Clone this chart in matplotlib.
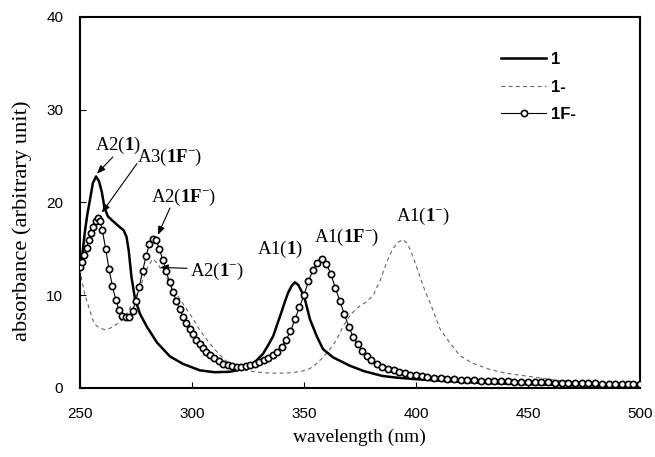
import numpy as np
import matplotlib
matplotlib.use("Agg")
import matplotlib.pyplot as plt

plt.rcParams['mathtext.fontset'] = 'custom'
plt.rcParams['mathtext.rm'] = 'Liberation Serif'
plt.rcParams['mathtext.it'] = 'Liberation Serif:italic'
plt.rcParams['mathtext.bf'] = 'Liberation Serif:bold'

# compound 1 (solid)
wl_1 = [250, 251, 252.2, 253.3, 254.5, 255.8, 257.2, 258.5, 259.8, 261, 262.5, 264.7,
        267.5, 269.5, 270.8, 271.8, 273, 274.6, 276.8, 279.9, 284.4, 290.2, 296, 303.6,
        310, 317, 322, 326, 329, 331.8, 334, 336.3, 338, 340, 341.5, 343, 344.5, 346,
        347.5, 349, 350.4, 352.7, 355.7, 358.5, 363, 370.5, 377, 385, 392, 400, 410,
        420, 435, 450, 470, 500]
abs_1 = [12.9, 14.2, 16.8, 18.7, 20.3, 22.1, 22.8, 22.3, 21.1, 19.4, 18.5, 18.0,
         17.4, 17.0, 16.3, 14.8, 12.0, 9.6, 8.0, 6.6, 4.9, 3.4, 2.6, 1.9,
         1.7, 1.75, 2.0, 2.4, 3.0, 3.7, 4.6, 5.6, 6.8, 8.2, 9.3, 10.3, 11.0, 11.4,
         11.1, 10.4, 9.6, 7.4, 5.6, 4.2, 3.3, 2.4, 1.8, 1.3, 1.1, 0.95, 0.8,
         0.65, 0.5, 0.4, 0.3, 0.2]

# anion 1- (dashed)
wl_1m = [250, 251, 252, 253.3, 254.5, 255.8, 257, 258.5, 261, 263, 264.7, 266.5, 268.7,
         271.4, 274.6, 277.7, 280.4, 282.5, 284.4, 287, 290, 293, 296.5, 300.4, 303.6,
         306.7, 310, 314, 318, 322, 326, 330, 335, 340, 345, 349, 352.7, 355.5, 358.5,
         361, 363, 365, 367.4, 370.5, 373.6, 376, 378, 381, 384, 386, 388, 390, 392,
         394.3, 396, 397.3, 399.5, 401.8, 404, 406.3, 408.5, 410.7, 415, 419.6, 425,
         433, 440, 452, 464, 475, 487, 500]
abs_1m = [12.8, 11.4, 10.3, 9.2, 8.3, 7.3, 6.8, 6.5, 6.3, 6.4, 6.6, 6.9, 7.3,
          8.2, 9.6, 11.4, 13.1, 13.9, 13.5, 12.5, 11.4, 10.2, 8.9, 7.5, 6.2,
          5.2, 4.2, 3.2, 2.4, 2.0, 1.8, 1.7, 1.6, 1.6, 1.65, 1.8, 2.1, 2.6, 3.3,
          4.0, 4.6, 5.4, 6.6, 7.8, 8.6, 9.0, 9.3, 10.0, 11.6, 12.9, 14.2, 15.1, 15.7,
          16.0, 15.6, 15.0, 13.6, 12.0, 10.5, 9.2, 7.8, 6.4, 4.9, 3.5, 2.7,
          2.0, 1.6, 1.2, 0.8, 0.6, 0.45, 0.35]

# 1F- (open circles)
wl_1f = [250, 251, 252, 253, 254, 255, 256, 257, 258, 259, 260, 261.5, 263, 264.5, 266,
         267.5, 269, 270.5, 272, 273.5, 275, 276.5, 278, 279.5, 281, 282.5, 284, 285.5,
         287, 288.5, 290, 291.5, 293, 294.5, 296, 297.5, 299, 300.5, 302, 303.5, 305,
         306.5, 308, 310, 312, 314, 316, 318, 320, 322, 324, 326, 328, 330, 332, 334,
         336, 338, 340, 342, 344, 346, 348, 350, 352, 354, 356, 358, 360, 362, 364, 366,
         368, 370, 372, 374, 376, 378, 380, 382.5, 385, 387.5, 390, 392.5, 395, 397.5,
         400, 402.5, 405, 408, 411, 414, 417, 420, 423, 426, 429, 432, 435, 438, 441,
         444, 447, 450, 453, 456, 459, 462, 465, 468, 471, 474, 477, 480, 483, 486, 489,
         492, 494.5, 497, 500]
abs_1f = [13.0, 13.6, 14.3, 15.1, 15.9, 16.7, 17.4, 18.0, 18.3, 18.0, 17.0, 15.0, 12.8,
          11.0, 9.5, 8.4, 7.8, 7.6, 7.7, 8.3, 9.4, 10.9, 12.6, 14.2, 15.5, 16.1, 15.9,
          15.0, 13.8, 12.6, 11.4, 10.4, 9.4, 8.5, 7.7, 7.0, 6.4, 5.8, 5.2, 4.7, 4.3,
          3.9, 3.6, 3.2, 2.9, 2.6, 2.45, 2.35, 2.3, 2.3, 2.35, 2.45, 2.6, 2.8, 3.0, 3.25,
          3.55, 3.9, 4.4, 5.2, 6.1, 7.4, 8.7, 10.0, 11.5, 12.7, 13.5, 13.9, 13.4, 12.3,
          10.8, 9.4, 8.0, 6.6, 5.5, 4.7, 4.0, 3.4, 3.0, 2.6, 2.3, 2.1, 1.9, 1.75, 1.6,
          1.45, 1.35, 1.25, 1.17, 1.1, 1.03, 0.97, 0.92, 0.88, 0.85, 0.82, 0.79, 0.77,
          0.75, 0.73, 0.71, 0.69, 0.67, 0.65, 0.63, 0.62, 0.6, 0.59, 0.57, 0.56, 0.54,
          0.53, 0.51, 0.5, 0.48, 0.47, 0.45, 0.44, 0.42, 0.41, 0.4]

fig = plt.figure(figsize=(6.55, 4.57), dpi=100)
ax = fig.add_axes([0.122, 0.151, 0.855, 0.812])

ax.plot(wl_1, abs_1, color='black', lw=1.8, label='1', zorder=4)
ax.plot(wl_1m, abs_1m, color='#666666', lw=0.8, dashes=(3.5, 3), label='1-', zorder=3)
ax.plot(wl_1f, abs_1f, color='black', lw=0.8, marker='o', ms=4.5, mfc='white',
        mec='black', mew=1.2, label='1F-', zorder=5)

ax.set_xlim(250, 500)
ax.set_ylim(0, 40)
ax.set_xticks([250, 300, 350, 400, 450, 500])
ax.set_yticks([0, 10, 20, 30, 40])
ax.tick_params(direction='in', length=4, width=0.8, labelsize=11)
ax.tick_params(axis='x', pad=14)
ax.tick_params(axis='y', pad=12)
for lbl in ax.get_xticklabels() + ax.get_yticklabels():
    lbl.set_family('Liberation Sans')
for s in ax.spines.values():
    s.set_linewidth(1.5)

ax.set_xlabel('wavelength (nm)', family='Liberation Serif', fontsize=14, labelpad=5)
ax.set_ylabel('absorbance (arbitrary unit)', family='Liberation Serif', fontsize=16.2)
ax.yaxis.set_label_coords(-0.085, 0.45)

leg = ax.legend(loc='upper left', bbox_to_anchor=(0.726, 0.945), frameon=False,
                handlelength=2.7, labelspacing=0.75, handletextpad=0.3,
                prop={'family': 'Liberation Sans', 'weight': 'bold', 'size': 12})

# peak labels and arrows
lab_kw = dict(family='Liberation Serif', fontsize=13.5, ha='center', va='center')
arr = dict(arrowstyle='-|>,head_length=0.5,head_width=0.2', color='black', lw=0.8,
           shrinkA=0, shrinkB=0)

ax.text(267.0, 26.1, r'A2($\mathbf{1}$)', **lab_kw)
ax.annotate('', xy=(257.6, 23.1), xytext=(264.7, 24.9), arrowprops=arr)

ax.text(290.0, 24.8, r'A3($\mathbf{1F}^{-}$)', **lab_kw)
ax.annotate('', xy=(259.8, 18.9), xytext=(275.5, 24.2), arrowprops=arr)

ax.text(296.4, 20.5, r'A2($\mathbf{1F}^{-}$)', **lab_kw)
ax.annotate('', xy=(284.8, 16.5), xytext=(290.2, 19.4), arrowprops=arr)

ax.text(299.1, 12.6, r'A2($\mathbf{1}^{-}$)', family='Liberation Serif', fontsize=13.5,
        ha='left', va='center')
ax.annotate('', xy=(285.7, 13.0), xytext=(297.8, 12.9), arrowprops=arr)

ax.text(339.3, 14.9, r'A1($\mathbf{1}$)', **lab_kw)
ax.text(369.2, 16.2, r'A1($\mathbf{1F}^{-}$)', **lab_kw)
ax.text(403.1, 18.5, r'A1($\mathbf{1}^{-}$)', **lab_kw)

fig.savefig('out.png', dpi=100)
